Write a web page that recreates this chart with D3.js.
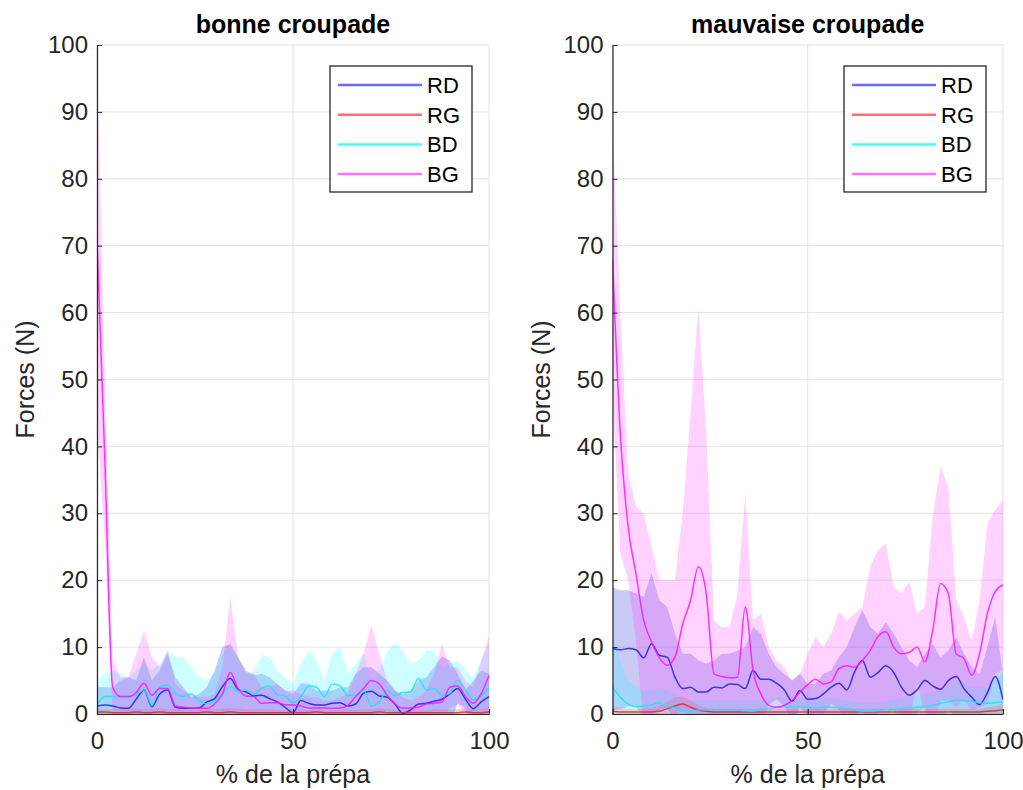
<!DOCTYPE html>
<html>
<head>
<meta charset="utf-8">
<script src="https://cdn.jsdelivr.net/npm/d3@7"></script>
<style>
    body { margin: 0; background: #fff; }
    svg { display: block; font-family: "Liberation Sans", Arial, sans-serif; }
</style>
</head>
<body>
<svg id="fig" width="1023" height="790"></svg>
<script>
// % de la prépa (abscisse commune)
var xs = [0,2,4,6,8,10,12,14,16,18,
          20,22,24,26,28,30,32,34,36,38,
          40,42,44,46,48,50,52,54,56,58,
          60,62,64,66,68,70,72,74,76,78,
          80,82,84,86,88,90,92,94,96,98,100];

var yTicks = [0,10,20,30,40,50,60,70,80,90,100];
var xTicks = [0,50,100];
var seriesNames = ["RD", "RG", "BD", "BG"];

// --- bonne croupade : moyenne et borne haute (moyenne + écart-type)
var bonneRD = [1.2,1.35,1.2,0.9,0.85,2.2,3.6,1.1,3.0,3.6,
    1.0,0.85,0.85,0.9,1.8,2.3,4.1,5.3,3.7,3.3,
    2.7,2.8,2.3,1.8,1.0,0.2,2.0,1.6,1.35,1.35,
    1.6,1.7,1.2,1.5,3.1,3.4,2.7,2.5,1.5,0.1,
    0.6,1.5,1.6,1.9,2.2,3.0,3.8,2.2,0.8,1.8,2.6];
var bonneRDsup = [4,4,4,5,5.5,5,8.5,5,6.5,9,
    5.5,4,2.5,3,4,6.5,10,10.5,8.5,6.5,
    5.8,6,5.5,4.5,3.5,3,4.6,4.5,3.5,3.5,
    3.5,4,4,6,7,7,6,5,3.5,3,
    3.5,5,5.5,7,8.6,8,6,3.5,5,6.5,6];
var bonneRG = [0.3,0.3,0.2,0.2,0.2,0.3,0.2,0.2,0.3,0.2,
    0.2,0.2,0.2,0.2,0.3,0.2,0.2,0.3,0.2,0.2,
    0.2,0.2,0.2,0.2,0.2,0.2,0.2,0.2,0.3,0.2,
    0.2,0.2,0.2,0.2,0.2,0.2,0.3,0.2,0.2,0.2,
    0.2,0.2,0.2,0.2,0.2,0.2,0.2,0.3,0.2,0.2,0.3];
var bonneRGsup = [0.9,0.8,0.7,0.7,0.8,0.9,0.7,0.7,0.9,0.8,
    0.7,0.7,0.6,0.7,0.9,0.7,0.8,0.9,0.8,0.7,
    0.7,0.7,0.7,0.6,0.6,0.7,0.7,0.6,0.9,0.7,
    0.6,0.7,0.7,0.6,0.7,0.7,0.9,0.7,0.6,0.6,
    0.7,0.7,0.6,0.7,0.7,0.6,0.7,0.9,0.7,0.7,0.9];
var bonneBD = [1.35,2.6,2.6,2.5,2.5,2.9,3.6,1.3,4.0,4.3,
    3.0,2.6,3.0,2.0,1.5,2.0,3.0,4.1,3.4,3.6,
    2.9,3.9,4.2,2.9,2.7,1.6,2.6,4.2,4.0,2.6,
    4.5,4.2,2.8,2.8,3.6,1.2,1.8,3.5,2.7,3.2,
    3.3,5.3,3.6,3.8,2.8,3.1,5.1,3.6,2.1,2.6,4.0];
var bonneBDsup = [5,6,6.5,6,5.5,6.5,7.5,6.5,7.5,9.5,
    8.5,8.5,7,5.5,5,6,9,10,8.5,6,
    6.5,8.8,8.5,6.5,5.5,4.5,7.5,9.6,8,5.2,
    9,10,6,7.5,9,5,6.5,9.3,10.6,9.5,
    7.5,8,9.5,9.5,7,7.5,8,6.5,5.5,8,10.6];
var bonneBG = [71,38,4,2.6,2.6,3.2,4.6,2.8,3.8,3.8,
    1.2,1.0,0.9,0.85,0.85,1.5,3.0,6.2,3.8,2.7,
    2.6,1.6,1.7,1.7,1.4,1.35,1.2,0.9,0.9,0.9,
    0.85,0.9,1.3,2.6,3.8,5.0,4.5,2.8,1.5,0.9,
    0.9,1.0,1.5,1.6,1.8,4.0,4.2,2.6,1.6,3.0,5.8];
var bonneBGsup = [99,50,8,5.5,5.5,9,12.5,8.5,7,9.5,
    4.5,3.5,3,2.5,2.5,3,7,17.5,8.5,6,
    6,4,4,4.5,3.5,3.5,3,2.5,2.5,2,
    2,2.5,3,6,9,13.3,9,5,3.5,2.5,
    2,2.5,3.5,6,10.5,7,7,5,4,8,11.5];

// --- mauvaise croupade
var mauvRD = [9.8,9.6,9.8,9.6,8.4,10.5,8.8,8.5,5.5,3.8,
    4.0,3.3,3.3,4.0,3.9,4.5,4.4,3.8,6.5,5.2,
    5.2,4.6,3.6,1.9,3.5,2.2,2.3,3.0,4.0,4.6,
    3.6,6.3,8.0,5.5,6.2,7.2,6.2,4.0,2.8,3.6,
    5.0,4.2,3.7,5.0,5.6,3.8,2.5,1.4,3.2,5.6,2.1];
var mauvRDsup = [19,18.5,18.5,18,17.5,21,17,16,12,9,
    9,8,7.5,8,9,9,9.5,10,13,12,
    9,7,6,5,6,4.5,4.5,6,6.5,8.5,
    10,13,15.5,13,12,13.7,12,10,8,7,
    9,10.5,8.5,9.5,11.5,9,7,6,10,14.5,6];
var mauvRG = [0.4,0.3,0.3,0.3,0.3,0.3,0.4,0.8,1.2,1.5,
    1.0,0.6,0.4,0.3,0.3,0.3,0.3,0.3,0.3,0.3,
    0.3,0.3,0.3,0.3,0.3,0.3,0.3,0.3,0.3,0.3,
    0.3,0.3,0.3,0.3,0.3,0.3,0.3,0.3,0.3,0.3,
    0.3,0.3,0.3,0.3,0.3,0.3,0.3,0.3,0.4,0.5,0.6];
var mauvRGsup = [1.2,0.9,0.8,0.8,0.8,0.9,1.2,1.8,2.5,2.6,
    2.0,1.3,0.9,0.8,0.8,0.8,0.8,0.8,0.8,0.8,
    0.8,0.8,0.8,0.8,0.8,0.8,0.8,0.8,0.8,0.8,
    0.8,0.8,0.8,0.8,0.8,0.8,0.8,0.8,0.8,0.8,
    0.8,0.8,0.8,0.8,0.8,0.8,0.8,0.8,1.0,1.2,1.5];
var mauvBD = [4.1,2.5,1.5,1.1,1.2,1.35,1.7,1.1,1.0,0.5,
    0.4,0.6,0.6,0.6,0.6,0.6,0.6,0.5,0.4,0.7,
    0.8,1.0,1.1,1.1,1.1,1.0,0.9,1.0,1.0,0.9,
    0.8,0.6,0.4,0.4,0.5,0.6,0.7,0.8,0.9,1.0,
    1.1,1.3,1.6,1.8,2.1,2.0,1.9,1.7,1.6,1.7,1.8];
var mauvBDsup = [12,8,5,4,3.5,3.5,4,3.5,3,2,
    2,2,2,2,2,2,2,2,2,2,
    2.2,2.5,2.5,2.5,2.5,2.5,2.3,2.4,2.4,2.2,
    2,1.8,1.6,1.6,1.8,2,2.2,2.4,2.6,2.8,
    3,3.3,3.5,4,5,4.5,4,4,4,5,6];
var mauvBG = [68,42,28,21,14,10.8,8.4,7.3,8.5,13.5,
    17,22,18,6,5.6,5.4,5.5,16,6.5,3,
    1.3,1,1.3,2,3.3,4.4,5.2,4.5,4.8,6.8,
    7.2,7,8,9.5,11.6,12.3,10,9,9.2,10,
    7.8,12.5,19.5,18,9,8.3,5.8,9,15,18.3,19.3];
var mauvBGsup = [88,60,36,31,30,25,20,20,20,30,
    45,61,42,14,13,13,18,33,14,15,
    10,8,7,5,6,9,11.5,10,12,15.3,
    14,15,16,22,24.5,25.5,19,18,19.8,15,
    16,29.5,37,34,17,14.5,11,17,28.5,30.5,32];

var lineColors = { RD: "#1f1fe6", RG: "#ee2020", BD: "#19e6f0", BG: "#ff14ff" };
var fillColors = { RD: "#3333dd", RG: "#ff3333", BD: "#22ffff", BG: "#ff33ff" };
var legendColors = { RD: "#6b6bff", RG: "#ff7070", BD: "#40ffff", BG: "#ff70ff" };

var panels = [
    { title: "bonne croupade", x0: 97, x1: 489,
      mean: { RD: bonneRD, RG: bonneRG, BD: bonneBD, BG: bonneBG },
      sup: { RD: bonneRDsup, RG: bonneRGsup, BD: bonneBDsup, BG: bonneBGsup } },
    { title: "mauvaise croupade", x0: 612.5, x1: 1003,
      mean: { RD: mauvRD, RG: mauvRG, BD: mauvBD, BG: mauvBG },
      sup: { RD: mauvRDsup, RG: mauvRGsup, BD: mauvBDsup, BG: mauvBGsup } }
];

var TOP = 45, BOTTOM = 714;
var svg = d3.select("#fig");

/**
 * Dessine un panneau complet (grille, bandes, courbes, axes, légende)
 */
function drawPanel(p, idx) {
    var x = d3.scaleLinear().domain([0, 100]).range([p.x0, p.x1]);
    var y = d3.scaleLinear().domain([0, 100]).range([BOTTOM, TOP]);
    var g = svg.append("g");

    // grille
    g.selectAll(".gy").data(yTicks).enter().append("line")
        .attr("x1", p.x0).attr("x2", p.x1)
        .attr("y1", function(d) { return y(d); }).attr("y2", function(d) { return y(d); })
        .style("stroke", "#e3e3e3").style("stroke-width", 1);
    g.selectAll(".gx").data(xTicks).enter().append("line")
        .attr("y1", TOP).attr("y2", BOTTOM)
        .attr("x1", function(d) { return x(d); }).attr("x2", function(d) { return x(d); })
        .style("stroke", "#e3e3e3").style("stroke-width", 1);

    var clipId = "clip" + idx;
    svg.append("clipPath").attr("id", clipId).append("rect")
        .attr("x", p.x0).attr("y", TOP).attr("width", p.x1 - p.x0).attr("height", BOTTOM - TOP);

    var plot = g.append("g").attr("clip-path", "url(#" + clipId + ")");

    // bandes moyenne +/- écart-type
    seriesNames.forEach(function(s) {
        var m = p.mean[s], sup = p.sup[s];
        var area = d3.area()
            .x(function(d, i) { return x(xs[i]); })
            .y0(function(d, i) { return y(Math.max(-2, 2 * m[i] - sup[i])); })
            .y1(function(d, i) { return y(sup[i]); });
        plot.append("path").datum(m)
            .attr("d", area)
            .style("fill", fillColors[s])
            .style("fill-opacity", s === "RD" ? 0.26 : 0.22)
            .style("stroke", "none");
    });

    // courbes moyennes
    seriesNames.forEach(function(s) {
        var line = d3.line()
            .x(function(d, i) { return x(xs[i]); })
            .y(function(d) { return y(d); })
            .curve(d3.curveMonotoneX);
        plot.append("path").datum(p.mean[s])
            .attr("d", line)
            .style("fill", "none")
            .style("stroke", lineColors[s])
            .style("stroke-opacity", 0.85)
            .style("stroke-width", 1.5);
    });

    // axes
    var yAxis = d3.axisLeft(y).tickValues(yTicks).tickSizeInner(-5).tickSizeOuter(0).tickPadding(9);
    var xAxis = d3.axisBottom(x).tickValues(xTicks).tickSizeInner(-5).tickSizeOuter(0).tickPadding(18);

    var ya = g.append("g").attr("transform", "translate(" + p.x0 + ",0)").call(yAxis);
    var xa = g.append("g").attr("transform", "translate(0," + BOTTOM + ")").call(xAxis);
    [ya, xa].forEach(function(a) {
        a.select(".domain").style("stroke", "#262626").style("stroke-width", 1.2);
        a.selectAll(".tick line").style("stroke", "#262626");
        a.selectAll(".tick text").style("fill", "#262626").style("font-size", "24px")
            .style("font-family", "'Liberation Sans', Arial, sans-serif");
    });

    // titres
    g.append("text")
        .attr("x", (p.x0 + p.x1) / 2).attr("y", 33)
        .attr("text-anchor", "middle")
        .style("font-size", "25px").style("font-weight", "bold").style("fill", "#000")
        .text(p.title);
    g.append("text")
        .attr("x", (p.x0 + p.x1) / 2).attr("y", 783)
        .attr("text-anchor", "middle")
        .style("font-size", "25px").style("fill", "#262626")
        .text("% de la prépa");
    g.append("text")
        .attr("transform", "translate(" + (p.x0 - 63) + "," + ((TOP + BOTTOM) / 2) + ") rotate(-90)")
        .attr("text-anchor", "middle")
        .style("font-size", "25px").style("fill", "#262626")
        .text("Forces (N)");

    // légende
    var lx = p.x1 - 159, ly = TOP + 21;
    var leg = g.append("g");
    leg.append("rect")
        .attr("x", lx).attr("y", ly).attr("width", 142).attr("height", 126)
        .style("fill", "#fff").style("stroke", "#262626").style("stroke-width", 1.3);
    seriesNames.forEach(function(s, i) {
        var cy = ly + 19 + i * 29.7;
        leg.append("line")
            .attr("x1", lx + 8).attr("x2", lx + 92).attr("y1", cy).attr("y2", cy)
            .style("stroke", legendColors[s]).style("stroke-width", 2.5);
        leg.append("text")
            .attr("x", lx + 97).attr("y", cy + 8)
            .style("font-size", "22px").style("fill", "#000")
            .text(s);
    });
}

panels.forEach(drawPanel);
</script>
</body>
</html>
